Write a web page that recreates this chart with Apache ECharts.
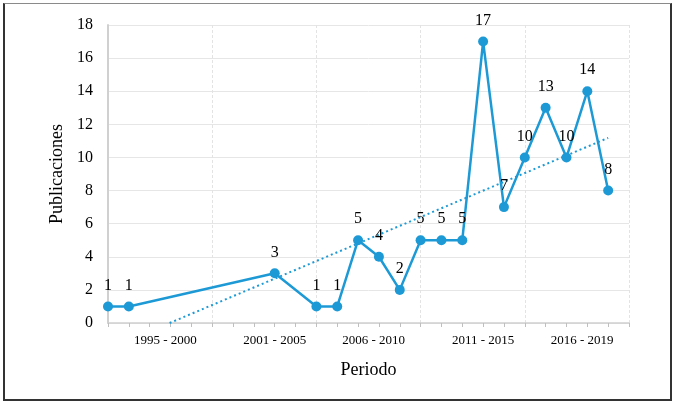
<!DOCTYPE html>
<html>
<head>
<meta charset="utf-8">
<script src="https://cdn.jsdelivr.net/npm/echarts@6/dist/echarts.min.js"></script>
<style>
  html, body { margin: 0; padding: 0; background: #fff; }
  #wrap { position: relative; width: 676px; height: 407px; }
  #chart { position: absolute; left: 0; top: 0; width: 676px; height: 407px; }
  #frame { position: absolute; left: 3px; top: 3px; width: 665px; height: 395px;
           border: 2px solid #333; border-top: 1.5px solid #8a8a8a; pointer-events: none; }
</style>
</head>
<body>
<div id="wrap"><div id="chart"></div><div id="frame"></div></div>
<script>
// ---- data ----
const years = ['1995','1996','1997','1998','1999','2000','2001','2002','2003','2004','2005','2006','2007',
               '2008','2009','2010','2011','2012','2013','2014','2015','2016','2017','2018','2019','2020'];
const publications = [1, 1, null, null, null, null, null, null, 3, null, 1, 1, 5, 4, 2, 5, 5, 5, 17, 7, 10, 13, 10, 14, 8, null];
const periodLabels = ['1995 - 2000', '2001 - 2005', '2006 - 2010', '2011 - 2015', '2016 - 2019'];
const yTicks = [0, 2, 4, 6, 8, 10, 12, 14, 16, 18];

// ---- linear trend (least squares on category index, like a spreadsheet trendline) ----
const pts = publications.map((v, i) => [i, v]).filter(p => p[1] !== null);
const n = pts.length;
const mx = pts.reduce((s, p) => s + p[0], 0) / n;
const my = pts.reduce((s, p) => s + p[1], 0) / n;
let sxy = 0, sxx = 0;
pts.forEach(p => { sxy += (p[0] - mx) * (p[1] - my); sxx += (p[0] - mx) * (p[0] - mx); });
const slope = sxy / sxx, icpt = my - slope * mx;
const xStart = Math.max(0, -icpt / slope);
const xEnd = pts[pts.length - 1][0];
const trend = [[xStart, icpt + slope * xStart], [xEnd, icpt + slope * xEnd]];

// label anchor positions (layout) for the period labels along the axis
const labelAt = { '2.75': 0, '8': 1, '12.75': 2, '18': 3, '22.75': 4 };

const FONT = 'Liberation Serif';
const BLUE = '#1d9ad6';

const chart = echarts.init(document.getElementById('chart'));
chart.setOption({
  backgroundColor: '#fff',
  animation: false,
  grid: { left: 108, right: 47, top: 25, bottom: 84, containLabel: false },
  xAxis: [{
    type: 'category',
    data: years,
    boundaryGap: false,
    name: 'Periodo',
    nameLocation: 'middle',
    nameGap: 38,
    nameTextStyle: { fontFamily: FONT, fontSize: 18, color: '#000' },
    axisLine: { lineStyle: { color: '#cfcfcf', width: 1.5 } },
    axisTick: { show: true, interval: 0, length: 4, lineStyle: { color: '#bfbfbf' } },
    axisLabel: { show: false },
    splitLine: { show: true, interval: (i) => i % 5 === 0 && i > 0, lineStyle: { color: '#e3e3e3', type: [3, 2], width: 1 } }
  }, {
    type: 'value',
    min: 0, max: 25, interval: 0.25,
    position: 'bottom',
    axisLine: { show: false }, axisTick: { show: false }, splitLine: { show: false },
    axisLabel: {
      show: true, margin: 11, hideOverlap: false,
      fontFamily: FONT, fontSize: 13, color: '#000',
      formatter: (v) => { const k = String(v); return (k in labelAt) ? periodLabels[labelAt[k]] : ''; }
    }
  }],
  yAxis: {
    type: 'value',
    min: yTicks[0], max: yTicks[yTicks.length - 1], interval: 2,
    name: 'Publicaciones',
    nameLocation: 'middle',
    nameGap: 39,
    nameTextStyle: { fontFamily: FONT, fontSize: 18, color: '#000' },
    axisLine: { show: true, lineStyle: { color: '#d0d0d0', width: 2 } },
    axisTick: { show: false },
    axisLabel: { margin: 15, fontFamily: FONT, fontSize: 16, color: '#000' },
    splitLine: { lineStyle: { color: '#e6e6e6', width: 1 } }
  },
  series: [{
    type: 'line',
    xAxisIndex: 0,
    data: publications,
    connectNulls: true,
    symbol: 'circle',
    symbolSize: 10,
    lineStyle: { color: BLUE, width: 2.5 },
    itemStyle: { color: BLUE },
    label: { show: true, position: 'top', distance: 8, fontFamily: FONT, fontSize: 16, color: '#000' },
    z: 3
  }, {
    type: 'line',
    xAxisIndex: 1,
    data: trend,
    symbol: 'none',
    lineStyle: { color: BLUE, width: 2, type: [2, 3] },
    z: 2
  }]
});
</script>
</body>
</html>
